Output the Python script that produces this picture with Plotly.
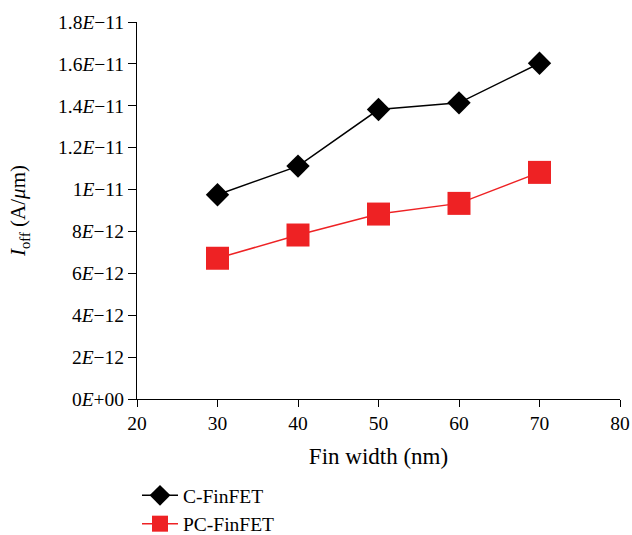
import plotly.graph_objects as go

fin_width = [30, 40, 50, 60, 70]
c_finfet = [9.75e-12, 1.112e-11, 1.382e-11, 1.414e-11, 1.603e-11]
pc_finfet = [6.72e-12, 7.83e-12, 8.83e-12, 9.34e-12, 1.082e-11]

y_tickvals = [0, 2e-12, 4e-12, 6e-12, 8e-12, 1e-11, 1.2e-11, 1.4e-11, 1.6e-11, 1.8e-11]
y_ticktext = ["0<i>E</i>+00", "2<i>E</i>−12", "4<i>E</i>−12", "6<i>E</i>−12", "8<i>E</i>−12",
              "1<i>E</i>−11", "1.2<i>E</i>−11", "1.4<i>E</i>−11", "1.6<i>E</i>−11", "1.8<i>E</i>−11"]
x_tickvals = [20, 30, 40, 50, 60, 70, 80]

FONT = "Liberation Serif"
FS = 19.5

fig = go.Figure()
fig.add_trace(go.Scatter(
    x=fin_width, y=c_finfet, name="C-FinFET", mode="lines+markers",
    line=dict(color="black", width=1.5),
    marker=dict(symbol="diamond", size=18, color="black"),
))
fig.add_trace(go.Scatter(
    x=fin_width, y=pc_finfet, name="PC-FinFET", mode="lines+markers",
    line=dict(color="#ee2224", width=1.5),
    marker=dict(symbol="square", size=23, color="#ee2224"),
))

fig.update_layout(
    width=632, height=535,
    margin=dict(l=137, r=12, t=19, b=136),
    paper_bgcolor="white", plot_bgcolor="white",
    font=dict(family=FONT, size=FS, color="black"),
    showlegend=True,
    legend=dict(x=0.0, y=0.11, xref="paper", yref="container", xanchor="left", yanchor="top",
                font=dict(family=FONT, size=FS), tracegroupgap=0, itemwidth=36,
                bgcolor="rgba(0,0,0,0)"),
    xaxis=dict(range=[20, 80], tickvals=x_tickvals, showline=True, linecolor="black",
               linewidth=1, ticks="outside", ticklen=7, tickcolor="black", showgrid=False,
               zeroline=False, automargin=False,
               title=dict(text="Fin width (nm)", standoff=14),
               tickfont=dict(family=FONT, size=FS)),
    yaxis=dict(range=[0, 1.8e-11], tickvals=y_tickvals, ticktext=y_ticktext, showline=True,
               linecolor="black", linewidth=1, ticks="outside", ticklen=8, tickcolor="black",
               showgrid=False, zeroline=False, automargin=True,
               title=dict(text="<i>I</i><sub>off</sub> (A/<i>μ</i>m)", standoff=26,
                          font=dict(family=FONT, size=21)),
               tickfont=dict(family=FONT, size=FS)),
)

fig.write_html("out.html")
